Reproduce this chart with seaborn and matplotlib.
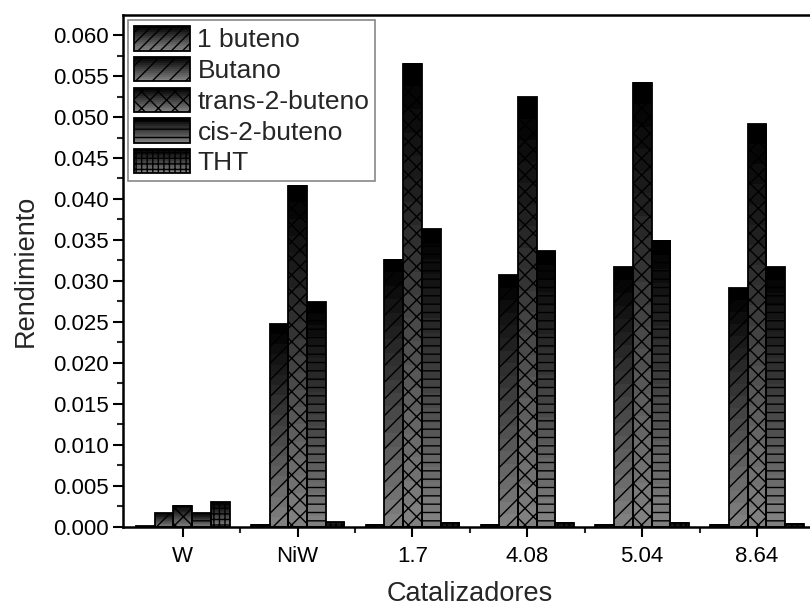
import numpy as np
import pandas as pd
import matplotlib
matplotlib.use("Agg")
import matplotlib.pyplot as plt
import seaborn as sns
from matplotlib.patches import Patch, Rectangle
from matplotlib.legend_handler import HandlerBase
from matplotlib.ticker import MultipleLocator, FormatStrFormatter, FixedLocator

# data
catalizadores = ['W', 'NiW', '1.7', '4.08', '5.04', '8.64']
series = ['1 buteno', 'Butano', 'trans-2-buteno', 'cis-2-buteno', 'THT']
buteno1 = [0.0001, 0.0003, 0.0003, 0.0003, 0.0003, 0.0003]
butano = [0.0017, 0.0247, 0.0326, 0.0307, 0.0317, 0.0291]
trans2 = [0.0026, 0.0416, 0.0565, 0.0524, 0.0542, 0.0491]
cis2 = [0.0017, 0.0274, 0.0363, 0.0336, 0.0349, 0.0317]
tht = [0.0030, 0.0006, 0.0005, 0.0005, 0.0005, 0.0004]
hatches = ['///', '//', 'xx', '--', '+++']

values = [buteno1, butano, trans2, cis2, tht]
df = pd.DataFrame({
    'cat': np.tile(catalizadores, len(series)),
    'serie': np.repeat(series, len(catalizadores)),
    'val': np.concatenate(values),
})

sns.set_style('ticks')
plt.rcParams['font.family'] = ['Liberation Sans', 'DejaVu Sans']
plt.rcParams['hatch.linewidth'] = 1.0

fig = plt.figure(figsize=(8.1, 6.07), dpi=100)
ax = fig.add_axes([0.1519, 0.1318, 0.8564, 0.8435])

sns.barplot(data=df, x='cat', y='val', hue='serie', order=catalizadores,
            hue_order=series, palette=['gray'] * len(series), width=0.815,
            edgecolor='black', linewidth=1.3, ax=ax, legend=False)

# gradient (black at top -> gray at bottom), stepped like the original
n_steps = 20
grad = np.linspace(0.5, 0.0, n_steps).reshape(-1, 1)
for cont, h in zip(ax.containers, hatches):
    for bar in cont:
        x0, y0 = bar.get_x(), bar.get_y()
        w, hgt = bar.get_width(), bar.get_height()
        ax.imshow(grad, extent=[x0, x0 + w, y0, y0 + hgt], origin='lower',
                  cmap='gray', vmin=0, vmax=1, aspect='auto',
                  interpolation='nearest', zorder=0.9)
        bar.set_facecolor('none')
        bar.set_hatch(h)
        bar.set_zorder(1.5)


class GradientHandler(HandlerBase):
    def create_artists(self, legend, orig_handle, xdescent, ydescent,
                       width, height, fontsize, trans):
        arts = []
        n = 12
        for i in range(n):
            g = 0.5 - 0.5 * i / (n - 1)
            arts.append(Rectangle((-xdescent, -ydescent + height * i / n),
                                  width, height / n, facecolor=(g, g, g),
                                  edgecolor='none', transform=trans))
        arts.append(Rectangle((-xdescent, -ydescent), width, height,
                              facecolor='none', edgecolor='black', lw=1.3,
                              hatch=orig_handle.get_hatch(), transform=trans))
        return arts


handles = [Patch(facecolor='none', edgecolor='black', hatch=h) for h in hatches]
leg = ax.legend(handles, series, loc='upper left', fontsize=19,
                handler_map={Patch: GradientHandler()},
                handlelength=2.1, handleheight=1.05, labelspacing=0.17,
                handletextpad=0.3, borderpad=0.22, borderaxespad=0.2,
                fancybox=False, framealpha=1, edgecolor='#888888')
leg.get_frame().set_linewidth(1.2)

ax.set_xlim(-0.52, 5.52)
ax.set_ylim(0, 0.06244)
ax.yaxis.set_major_locator(MultipleLocator(0.005))
ax.yaxis.set_minor_locator(MultipleLocator(0.0025))
ax.yaxis.set_major_formatter(FormatStrFormatter('%.3f'))
ax.xaxis.set_minor_locator(FixedLocator(np.arange(0.5, 5.5, 1.0)))

ax.tick_params(axis='both', which='major', direction='out', length=7,
               width=1.5, labelsize=16, colors='black')
ax.tick_params(axis='both', which='minor', direction='out', length=4,
               width=1.5)
ax.tick_params(axis='x', which='major', pad=7)
for sp in ax.spines.values():
    sp.set_linewidth(1.8)
    sp.set_color('black')

ax.set_xlabel('Catalizadores', fontsize=19.5, labelpad=10)
ax.set_ylabel('Rendimiento', fontsize=19.5, labelpad=10)

fig.savefig('out.png', dpi=100)
